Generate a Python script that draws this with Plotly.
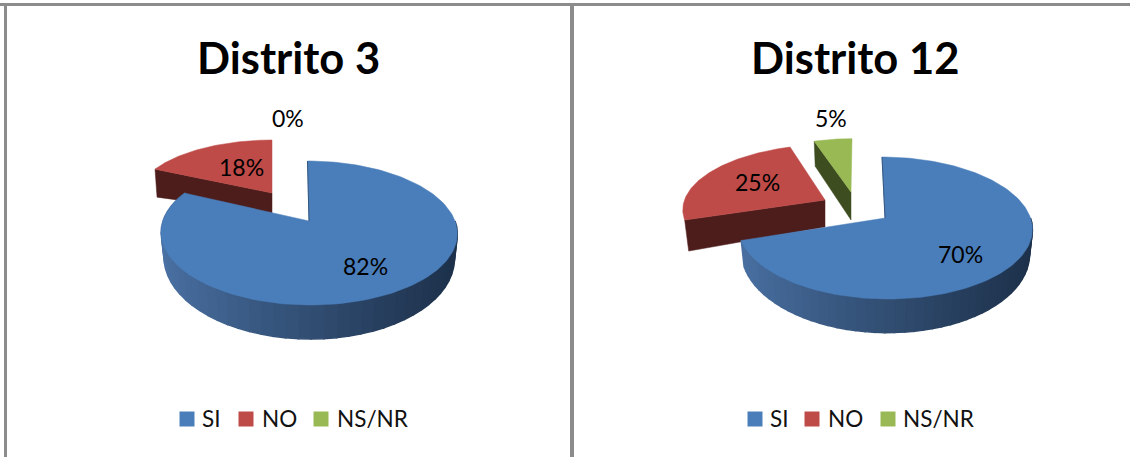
import math

import plotly.graph_objects as go

CATEGORIES = ["SI", "NO", "NS/NR"]
COLORS = ["#4a7ebb", "#be4b48", "#98b954"]
WALL_COLORS = [None, "#4d1d1b", "#3d4d20"]

TITLES = ["Distrito 3", "Distrito 12"]
VALUES_D3 = [82, 18, 0]
VALUES_D12 = [70, 25, 5]

# projected pie geometry, in page pixels: apex, half widths, perspective, skew
SLICES = [
    [
        dict(cx=309, cy=221, a=70, b=146, p=1 / 6, s=-1.5),
        dict(cx=272, cy=193, a=58.5, b=135, p=0.104, s=0, wall=(20, 28, 2)),
        None,
    ],
    [
        dict(cx=885, cy=218, a=69.6, b=145.5, p=0.141, s=-3),
        dict(cx=825, cy=200, a=62.4, b=140.5, p=0.127, s=4, wall=(27, 31, 4)),
        dict(cx=851, cy=192, a=56, b=128, p=0.05, s=1, wall=(28, 25, 1)),
    ],
]
LABEL_POS = [
    [(365, 266), (241, 167), (288, 118)],
    [(960, 254), (757, 182), (831, 118)],
]
TITLE_POS = [(288, 56.5), (855, 56.5)]
LEGEND_SQUARES = [[187, 246, 321], [755, 812, 888]]
LEGEND_TEXT = [[202, 262, 337], [770, 828, 903]]
LEGEND_Y = 419


def rim(g, pct):
    t = 2 * math.pi * pct / 100
    u, v = math.sin(t), math.cos(t)
    w = 1 + g["p"] * v
    return g["cx"] + g["b"] * u / w + g["s"] * v, g["cy"] - g["a"] * v / w


def arc(g, start, end, n=80):
    return [rim(g, start + (end - start) * i / n) for i in range(n + 1)]


def mix(c1, c2, f):
    return "rgb(%d,%d,%d)" % tuple(c1[i] + (c2[i] - c1[i]) * f for i in range(3))


def poly(fig, pts, color, width=0.5):
    fig.add_trace(
        go.Scatter(
            x=[p[0] for p in pts] + [pts[0][0]],
            y=[p[1] for p in pts] + [pts[0][1]],
            mode="lines",
            fill="toself",
            fillcolor=color,
            line={"color": color, "width": width},
            hoverinfo="skip",
            showlegend=False,
        )
    )


def lower(g, pt):
    # bottom edge of the pie's side wall, a little narrower and deeper up front
    x, y = pt
    return g["cx"] + 0.98 * (x - g["cx"]), y + 25 + (y - g["cy"] - 12) * 0.125


fig = go.Figure()

for chart, values in enumerate([VALUES_D3, VALUES_D12]):
    geos = SLICES[chart]
    starts = [0, values[0], values[0] + values[1]]

    # slices at the back first, the big blue one covers their walls
    for i in [2, 1]:
        g = geos[i]
        if g is None:
            continue
        start, end = starts[i], starts[i] + values[i]
        apex = (g["cx"], g["cy"])
        edge = rim(g, start)
        d_apex, d_rim, dx = g["wall"]
        poly(
            fig,
            [apex, edge, (edge[0] + dx, edge[1] + d_rim), (apex[0], apex[1] + d_apex)],
            WALL_COLORS[i],
        )
        poly(fig, [apex] + arc(g, start, end), COLORS[i])

    g = geos[0]
    end = values[0]
    # outer wall of the blue slice, lighter on the left, darker on the right
    n = 48
    side = [25 + (end - 25) * k / n for k in range(n + 1)]
    for k in range(n):
        p1, p2 = rim(g, side[k]), rim(g, side[k + 1])
        f = min(max((p1[0] - (g["cx"] - g["b"])) / (2 * g["b"]), 0), 1)
        color = mix((74, 113, 163), (30, 50, 76), f ** 0.9)
        poly(fig, [p1, p2, lower(g, p2), lower(g, p1)], color, width=1.5)
    poly(fig, [(g["cx"], g["cy"])] + arc(g, 0, end, 160), COLORS[0])
    top = rim(g, 0)
    fig.add_trace(
        go.Scatter(
            x=[top[0], g["cx"]],
            y=[top[1], g["cy"]],
            mode="lines",
            line={"color": "#34577f", "width": 1},
            hoverinfo="skip",
            showlegend=False,
        )
    )

    # data labels
    for v, (x, y) in zip(values, LABEL_POS[chart]):
        fig.add_annotation(
            x=x, y=y, text=f"{v}%", showarrow=False, font={"size": 23, "color": "#000000"}
        )

    # chart title
    fig.add_annotation(
        x=TITLE_POS[chart][0],
        y=TITLE_POS[chart][1],
        text=f"<b>{TITLES[chart]}</b>",
        showarrow=False,
        font={"size": 43.5, "color": "#000000"},
    )

    # legend row
    fig.add_trace(
        go.Scatter(
            x=LEGEND_SQUARES[chart],
            y=[LEGEND_Y] * 3,
            mode="markers",
            marker={"symbol": "square", "size": 15, "color": COLORS},
            hoverinfo="skip",
            showlegend=False,
        )
    )
    for name, x in zip(CATEGORIES, LEGEND_TEXT[chart]):
        fig.add_annotation(
            x=x,
            y=LEGEND_Y - 1,
            text=name,
            showarrow=False,
            xanchor="left",
            xshift=-2,
            font={"size": 22.5, "color": "#111111"},
        )

# panel frames
for x0, y0, x1, y1, w in [
    (0, 4.5, 1130, 4.5, 3),
    (572, 4, 572, 457, 4),
    (5.5, 4, 5.5, 457, 3),
]:
    fig.add_shape(
        type="line", x0=x0, y0=y0, x1=x1, y1=y1, line={"color": "#8c8c8c", "width": w}
    )

fig.update_layout(
    width=1130,
    height=457,
    margin={"l": 0, "r": 0, "t": 0, "b": 0},
    paper_bgcolor="#ffffff",
    plot_bgcolor="#ffffff",
    font={"family": "Lato, sans-serif"},
    xaxis={"range": [0, 1130], "visible": False, "fixedrange": True},
    yaxis={"range": [457, 0], "visible": False, "fixedrange": True},
)

# the page's default body margin would push the figure off by 8px
fig.write_html(
    "out.html",
    config={"displayModeBar": False},
    post_script="document.body.style.margin='0';document.documentElement.style.overflow='hidden';",
)
